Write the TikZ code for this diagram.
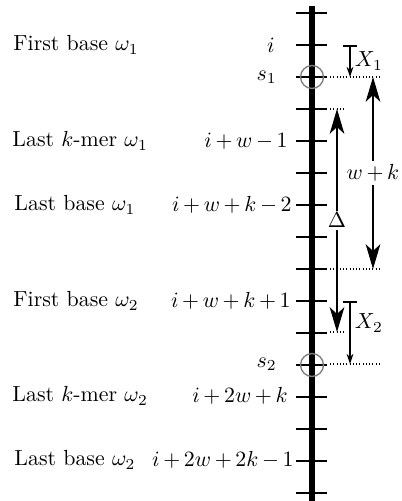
\documentclass[tikz,border=0pt]{standalone}
\usepackage{amsmath}
\usetikzlibrary{arrows.meta,positioning}
\medmuskip=3mu plus 2mu minus 3mu
\tikzset{
    axisline/.style={line width=2.5pt},
    tickmark/.style={line width=0.8pt},
    guide/.style={densely dotted, line width=0.45pt},
    seed/.style={circle, draw=gray, line width=0.6pt, minimum size=10.5pt, inner sep=0pt},
    spanarrow/.style={line width=0.5pt, {Stealth[length=11pt,width=6.5pt,inset=3pt]}-{Stealth[length=11pt,width=6.5pt,inset=3pt]}},
    shiftarrow/.style={line width=0.5pt, {Bar[width=6.5pt,line width=0.8pt]}-{Stealth[length=4.5pt,width=3pt]}},
    posname/.style={anchor=east, inner sep=0pt},
    basename/.style={anchor=west, inner sep=0pt}
}

\begin{document}
\begin{tikzpicture}[x=0.444pt, y=-0.444pt, every node/.style={scale=0.97}]
    \useasboundingbox (0,0) rectangle (401,501);
    % the sequence axis with its ticks
    \draw[axisline] (312,6) -- (312,501);
    \foreach \k in {0,...,15} {
        \coordinate (t\k) at (312,13+32*\k);
        \draw[tickmark] (296,13+32*\k) -- (327,13+32*\k);
    }
    % sampled positions
    \node[seed] (c1) at (t2) {};
    \node[seed] (c2) at (t11) {};
    % positions on the left of the axis
    \node[posname] (p1) at (275,45) {$i$};
    \node[posname] (ps1) at (277,77) {$s_1$};
    \node[posname] (p4) at (288,141) {$i+w-1$};
    \node[posname] (p6) at (292,205) {$i+w+k-2$};
    \node[posname] (p9) at (291,301) {$i+w+k+1$};
    \node[posname] (ps2) at (277,364) {$s_2$};
    \node[posname] (p12) at (288,396) {$i+2w+k$};
    \node[posname] (p14) at (294,460) {$i+2w+2k-1$};
    % window names
    \node[basename] (n1) at (13,45) {First base $\omega_1$};
    \node[basename] (n2) at (12,141) {Last $k$-mer $\omega_1$};
    \node[basename] (n3) at (14,205) {Last base $\omega_1$};
    \node[basename] (n4) at (13,301) {First base $\omega_2$};
    \node[basename] (n5) at (12,396) {Last $k$-mer $\omega_2$};
    \node[basename] (n6) at (14,460) {Last base $\omega_2$};
    % end points of the arrows
    \coordinate (x1a) at (350,45);
    \coordinate (x1b) at (350,77);
    \coordinate (x2a) at (350,301);
    \coordinate (x2b) at (350,364);
    \coordinate (da) at (337,109);
    \coordinate (db) at (337,332);
    \coordinate (wa) at (373,77);
    \coordinate (wb) at (373,269);
    % dotted guides
    \draw[guide] (330,77) -- (380,77);
    \draw[guide] (330,109) -- (345,109);
    \draw[guide] (330,269) -- (380,269);
    \draw[guide] (330,332) -- (345,332);
    \draw[guide] (330,364) -- (380,364);
    % arrows
    \draw[shiftarrow] (x1a) -- node[right, inner sep=2pt, pos=0.5] {$X_1$} (x1b);
    \draw[shiftarrow] (x2a) -- node[right, inner sep=2pt, pos=0.35] {$X_2$} (x2b);
    \draw[spanarrow] (da) -- node[fill=white, inner sep=1pt] {$\Delta$} (db);
    \draw[spanarrow] (wa) -- node[fill=white, inner sep=1.5pt] {$w+k$} (wb);
\end{tikzpicture}
\end{document}
